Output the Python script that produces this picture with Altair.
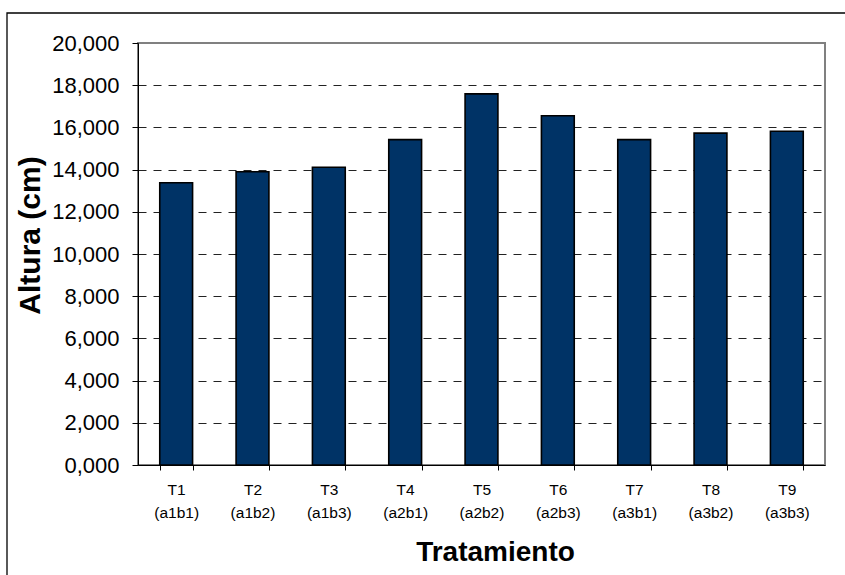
import altair as alt
import pandas as pd

# Treatments, factor combinations and mean plant height (cm)
tratamientos = ["T1", "T2", "T3", "T4", "T5", "T6", "T7", "T8", "T9"]
combinaciones = ["(a1b1)", "(a1b2)", "(a1b3)", "(a2b1)", "(a2b2)",
                 "(a2b3)", "(a3b1)", "(a3b2)", "(a3b3)"]
altura = [13.38, 13.90, 14.11, 15.42, 17.59, 16.55, 15.42, 15.73, 15.82]
y_ticks = [0, 2, 4, 6, 8, 10, 12, 14, 16, 18, 20]

df = pd.DataFrame({
    "tratamiento": [f"{t}\n{c}" for t, c in zip(tratamientos, combinaciones)],
    "altura": altura,
})

FONT = "Liberation Sans"

# Outer chart border (runs off the right and bottom edges)
frame = alt.Chart(pd.DataFrame({"k": [0]})).mark_rect(
    fill="white", fillOpacity=0, stroke="black", strokeWidth=1.3
).encode(
    x=alt.value(-131), x2=alt.value(712),
    y=alt.value(-30), y2=alt.value(540),
)

bars = alt.Chart(df).mark_bar(
    color="#003366", stroke="black", strokeWidth=1.6
).encode(
    x=alt.X(
        "tratamiento:N", sort=None,
        scale=alt.Scale(paddingInner=0.57, paddingOuter=0.285),
        axis=alt.Axis(
            title="Tratamiento",
            labelAngle=0,
            labelExpr="isValid(datum.value) ? split(datum.value, '\\n') : ''",
            labelFont=FONT, labelFontSize=15.5, labelColor="black",
            labelLineHeight=23, labelPadding=12, labelBaseline="top",
            tickBand="extent", tickSize=5, tickColor="black",
            domainColor="black",
            titleFont=FONT, titleFontSize=28, titleFontWeight="bold",
            titleColor="black", titleX=357, titleY=95,
            titleAlign="center", titleBaseline="alphabetic",
        ),
    ),
    y=alt.Y(
        "altura:Q",
        scale=alt.Scale(domain=[0, 20], nice=False),
        axis=alt.Axis(
            title="Altura (cm)",
            values=y_ticks,
            labelExpr="replace(format(datum.value, '.3f'), '.', ',')",
            labelFont=FONT, labelFontSize=22, labelColor="black",
            labelPadding=13,
            tickSize=6, tickColor="black", domainColor="black",
            grid=True, gridColor="#222222", gridDash=[8, 7],
            gridOpacity={"condition": {"test": "datum.value == 20 || datum.value == 0",
                                       "value": 0}, "value": 1},
            titleFont=FONT, titleFontSize=30, titleFontWeight="bold",
            titleColor="black", titleAngle=270,
            titleX=-108, titleY=192,
            titleAlign="center", titleBaseline="middle",
        ),
    ),
)

chart = alt.layer(frame, bars).properties(
    width=687, height=422,
    padding={"left": 138, "top": 43, "right": 20, "bottom": 110},
    autosize=alt.AutoSizeParams(type="none"),
    background="white",
).configure_view(
    stroke="#808080", strokeWidth=2
)

chart.save("out.html", embed_options={"renderer": "svg", "actions": False})
